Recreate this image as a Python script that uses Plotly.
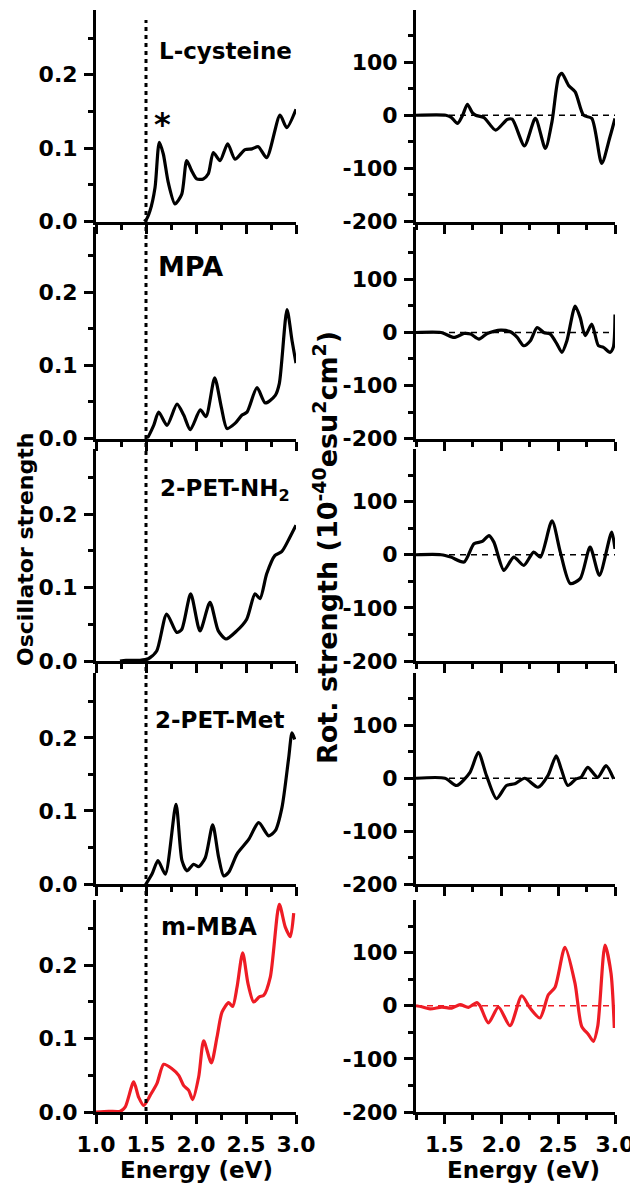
import plotly.graph_objects as go

# The page body has an 8px margin, so the figure is placed at (8, 8) of the 638x1188 window.
PAGE_OFF = 8
W, H = 638 - PAGE_OFF, 1188 - PAGE_OFF

# ---------------- data ----------------
panel_names = ["L-cysteine", "MPA", "2-PET-NH<sub>2</sub>", "2-PET-Met", "m-MBA"]

# Oscillator strength (left column)
osc_x_lcys = [1.48, 1.50, 1.54, 1.59, 1.633, 1.673, 1.723, 1.79, 1.857, 1.907, 1.957, 2.007, 2.073, 2.123,
              2.173, 2.24, 2.317, 2.39, 2.49, 2.56, 2.623, 2.707, 2.84, 2.907, 3.0]
osc_y_lcys = [0.0, 0.002, 0.0145, 0.046, 0.108, 0.092, 0.053, 0.024, 0.037, 0.083, 0.069, 0.058, 0.058, 0.065,
              0.094, 0.083, 0.106, 0.085, 0.098, 0.099, 0.102, 0.087, 0.145, 0.128, 0.153]

osc_x_mpa = [1.50, 1.51, 1.577, 1.627, 1.71, 1.81, 1.877, 1.943, 2.043, 2.10, 2.187, 2.253, 2.31, 2.393, 2.46,
             2.51, 2.61, 2.693, 2.793, 2.833, 2.91, 2.96, 3.0]
osc_y_mpa = [0.0, 0.0, 0.018, 0.036, 0.018, 0.047, 0.032, 0.012, 0.039, 0.03, 0.083, 0.043, 0.0136, 0.021, 0.032,
             0.036, 0.0695, 0.0486, 0.059, 0.075, 0.176, 0.134, 0.103]

osc_x_nh2 = [1.24, 1.30, 1.44, 1.523, 1.607, 1.707, 1.807, 1.857, 1.947, 2.04, 2.14, 2.223, 2.30, 2.407, 2.507,
             2.59, 2.64, 2.707, 2.79, 2.857, 2.94, 3.0]
osc_y_nh2 = [0.0, 0.001, 0.001, 0.003, 0.0137, 0.064, 0.039, 0.043, 0.0915, 0.041, 0.08, 0.041, 0.03, 0.041, 0.057,
             0.0915, 0.085, 0.119, 0.144, 0.149, 0.169, 0.185]

osc_x_met = [1.50, 1.56, 1.62, 1.693, 1.80, 1.86, 1.91, 1.977, 2.027, 2.093, 2.167, 2.227, 2.277, 2.327, 2.41,
             2.527, 2.627, 2.727, 2.793, 2.86, 2.927, 2.96, 2.987]
osc_y_met = [0.0, 0.0136, 0.032, 0.0136, 0.109, 0.032, 0.018, 0.027, 0.0236, 0.036, 0.081, 0.036, 0.011, 0.016,
             0.041, 0.061, 0.084, 0.066, 0.073, 0.105, 0.173, 0.207, 0.198]

osc_x_mmba = [1.0, 1.127, 1.243, 1.293, 1.377, 1.427, 1.477, 1.543, 1.61, 1.677, 1.76, 1.827, 1.877, 1.927, 1.967,
              2.027, 2.077, 2.153, 2.21, 2.26, 2.327, 2.367, 2.41, 2.467, 2.52, 2.577, 2.633, 2.677, 2.743, 2.833,
              2.893, 2.943, 2.977]
osc_y_mmba = [0.0, 0.001, 0.001, 0.007, 0.041, 0.02, 0.009, 0.023, 0.039, 0.065, 0.059, 0.05, 0.036, 0.0295, 0.017,
              0.048, 0.097, 0.067, 0.102, 0.136, 0.149, 0.144, 0.17, 0.217, 0.175, 0.15, 0.157, 0.159, 0.184, 0.283,
              0.252, 0.239, 0.271]

# Rotational strength (right column)
rot_x_lcys = [1.25, 1.5125, 1.56, 1.6146, 1.66, 1.702, 1.745, 1.775, 1.848, 1.95, 2.052, 2.096, 2.204, 2.30,
              2.3875, 2.446, 2.504, 2.533, 2.592, 2.65, 2.723, 2.796, 2.883, 2.956, 3.0]
rot_y_lcys = [0, 0, -4, -15.6, 0, 20.6, 5, 0, -4.4, -28, -8, -7.5, -57.5, -6, -62.5, -12, 72, 79, 56, 44, 0, -6,
              -90.6, -40.6, -6]

rot_x_mpa = [1.25, 1.47, 1.585, 1.673, 1.73, 1.804, 1.877, 1.994, 2.08, 2.14, 2.198, 2.256, 2.315, 2.373, 2.431,
             2.49, 2.533, 2.577, 2.65, 2.694, 2.738, 2.796, 2.854, 2.898, 2.956, 2.985, 3.0]
rot_y_mpa = [0, 0, -9.4, -1.9, -3, -12.5, -1.9, 4.4, 1.25, -9.4, -25, -15.6, 9.4, 0, -3, -21.9, -37.5, -15.6, 50,
             28, -6, 15.6, -25, -28, -37.5, -28, 34]

rot_x_nh2 = [1.25, 1.47, 1.556, 1.673, 1.76, 1.833, 1.892, 1.935, 2.023, 2.11, 2.198, 2.285, 2.344, 2.446, 2.519,
             2.606, 2.694, 2.781, 2.863, 2.971, 3.0]
rot_y_nh2 = [0, 0, -4.4, -13.75, 20.6, 25, 36, 23.75, -29.4, -4.4, -20, 5, -4.4, 64, 5, -54, -45, 14.4, -38.75,
             42.5, 11]

rot_x_met = [1.25, 1.505, 1.608, 1.725, 1.798, 1.87, 1.958, 2.046, 2.119, 2.206, 2.323, 2.41, 2.483, 2.527, 2.585,
             2.658, 2.702, 2.76, 2.848, 2.921, 2.988]
rot_y_met = [0, 0, -13.75, 11.25, 48.75, 5, -38.75, -13.75, -10.6, 0, -17, 5, 42.5, 17.5, -13.75, -1.25, 1.9,
             20.6, 1.9, 23.75, -1.25]

rot_x_mmba = [1.25, 1.30, 1.374, 1.477, 1.564, 1.638, 1.711, 1.784, 1.813, 1.887, 1.975, 2.077, 2.18, 2.253, 2.34,
              2.414, 2.473, 2.56, 2.648, 2.707, 2.766, 2.81, 2.848, 2.912, 2.965, 2.994]
rot_y_mmba = [0, -2, -6, -2.5, -4.4, 2, -3, 6, 0, -32.5, -2.5, -37.5, 18.75, -4.4, -23, 20.6, 35, 110, 42.5,
              -38.75, -54, -67, -38.75, 114, 61, -42]

osc_series = [(osc_x_lcys, osc_y_lcys), (osc_x_mpa, osc_y_mpa), (osc_x_nh2, osc_y_nh2),
              (osc_x_met, osc_y_met), (osc_x_mmba, osc_y_mmba)]
rot_series = [(rot_x_lcys, rot_y_lcys), (rot_x_mpa, rot_y_mpa), (rot_x_nh2, rot_y_nh2),
              (rot_x_met, rot_y_met), (rot_x_mmba, rot_y_mmba)]
line_colors = ["black", "black", "black", "black", "#EE1C25"]

left_x_ticks = [1.0, 1.5, 2.0, 2.5, 3.0]
right_x_ticks = [1.5, 2.0, 2.5, 3.0]
left_y_ticks = [0.0, 0.1, 0.2]
right_y_ticks = [-200, -100, 0, 100]
edge_energy = 1.5

# ---------------- layout geometry (window pixels) ----------------
row_px = [(9.5, 221.5), (227, 438.5), (449, 661), (673, 884), (900, 1112)]
left_px = (96, 296)
right_px = (416, 615)


def px_x(p):
    return (p - PAGE_OFF) / W


def px_y(p):
    return 1 - (p - PAGE_OFF) / H


FONT = "DejaVu Sans"
tickfont = dict(family=FONT, size=22, color="black", weight="bold")

fig = go.Figure()
layout = dict(template="none", width=W, height=H, margin=dict(l=0, r=0, t=0, b=0, autoexpand=False),
              paper_bgcolor="white", plot_bgcolor="white", showlegend=False)

axis_common = dict(showline=True, linecolor="black", linewidth=3, ticks="outside", ticklen=9, tickwidth=3,
                   tickcolor="black", showgrid=False, zeroline=False, tickfont=tickfont, fixedrange=True,
                   automargin=False, ticklabelstandoff=2)

shapes = []
annotations = []

for r in range(5):
    top, bot = row_px[r]
    ydom = [px_y(bot), px_y(top)]
    for c in range(2):
        idx = 2 * r + c + 1
        xn = "x" if idx == 1 else f"x{idx}"
        yn = "y" if idx == 1 else f"y{idx}"
        xk = "xaxis" if idx == 1 else f"xaxis{idx}"
        yk = "yaxis" if idx == 1 else f"yaxis{idx}"
        if c == 0:
            xs, ys = osc_series[r]
            xr = [1.0, 3.0]
            yr = [0, 0.289]
            xdom = [px_x(left_px[0]), px_x(left_px[1])]
            xt = left_x_ticks
            yt = left_y_ticks
            ytt = [f"{v:.1f}" for v in yt]
            xminor = dict(ticks="outside", ticklen=5, tickwidth=3, tickcolor="black", dtick=0.25, tick0=1.0)
            yminor = dict(ticks="outside", ticklen=5, tickwidth=3, tickcolor="black", dtick=0.05, tick0=0)
        else:
            xs, ys = rot_series[r]
            xr = [1.25, 3.0]
            yr = [-200, 199]
            xdom = [px_x(right_px[0]), px_x(right_px[1])]
            xt = right_x_ticks
            yt = right_y_ticks
            ytt = [str(v) for v in yt]
            xminor = dict(ticks="outside", ticklen=5, tickwidth=3, tickcolor="black", dtick=0.25, tick0=1.25)
            yminor = dict(ticks="outside", ticklen=5, tickwidth=3, tickcolor="black", dtick=50, tick0=-200)
            # dashed zero line
            shapes.append(dict(type="line", xref=xn, yref=yn, x0=1.25, x1=3.0, y0=0, y1=0, layer="below",
                               line=dict(color=line_colors[r], width=1.6, dash="6px,5px")))
        layout[xk] = dict(axis_common, domain=xdom, range=xr, anchor=yn, tickvals=xt,
                          ticktext=[f"{v:.1f}" for v in xt], showticklabels=(r == 4), minor=xminor)
        layout[yk] = dict(axis_common, domain=ydom, range=yr, anchor=xn, tickvals=yt, ticktext=ytt,
                          minor=yminor)
        fig.add_trace(go.Scatter(x=xs, y=ys, xaxis=xn, yaxis=yn, mode="lines",
                                 line=dict(color=line_colors[r], width=3.2, shape="spline", smoothing=0.7),
                                 hoverinfo="skip"))

# vertical dotted line at band-gap energy across left column
shapes.append(dict(type="line", xref="x", yref="paper", x0=edge_energy, x1=edge_energy,
                   y0=px_y(1111), y1=px_y(20), layer="above",
                   line=dict(color="black", width=3, dash="4px,4px")))

labfont = dict(family=FONT, size=23, color="black", weight="bold")
label_pos = [(157, 51, 23), (156, 266, 27), (158, 490, 23), (153, 720, 23), (159, 927, 24)]
for r, (lx, ly, fs) in enumerate(label_pos):
    annotations.append(dict(x=px_x(lx), y=px_y(ly), xref="paper", yref="paper", text=panel_names[r],
                            showarrow=False, xanchor="left", yanchor="middle",
                            font=dict(labfont, size=fs)))
annotations.append(dict(x=px_x(162), y=px_y(124), xref="paper", yref="paper", text="*", showarrow=False,
                        xanchor="center", yanchor="middle", font=dict(labfont, size=32)))

titlefont = dict(family=FONT, size=23, color="black", weight="bold")
annotations.append(dict(x=px_x(196), y=px_y(1170), xref="paper", yref="paper", text="Energy (eV)",
                        showarrow=False, xanchor="center", yanchor="middle", font=titlefont))
annotations.append(dict(x=px_x(523), y=px_y(1170), xref="paper", yref="paper", text="Energy (eV)",
                        showarrow=False, xanchor="center", yanchor="middle", font=titlefont))
annotations.append(dict(x=px_x(25), y=px_y(550), xref="paper", yref="paper", text="Oscillator strength",
                        showarrow=False, xanchor="center", yanchor="middle", textangle=-90,
                        font=dict(titlefont, size=22)))
annotations.append(dict(x=px_x(325), y=px_y(548), xref="paper", yref="paper",
                        text="Rot. strength (10<sup>-40</sup>esu<sup>2</sup>cm<sup>2</sup>)",
                        showarrow=False, xanchor="center", yanchor="middle", textangle=-90,
                        font=dict(titlefont, size=27)))

layout["shapes"] = shapes
layout["annotations"] = annotations
fig.update_layout(**layout)
fig.write_html("out.html")
